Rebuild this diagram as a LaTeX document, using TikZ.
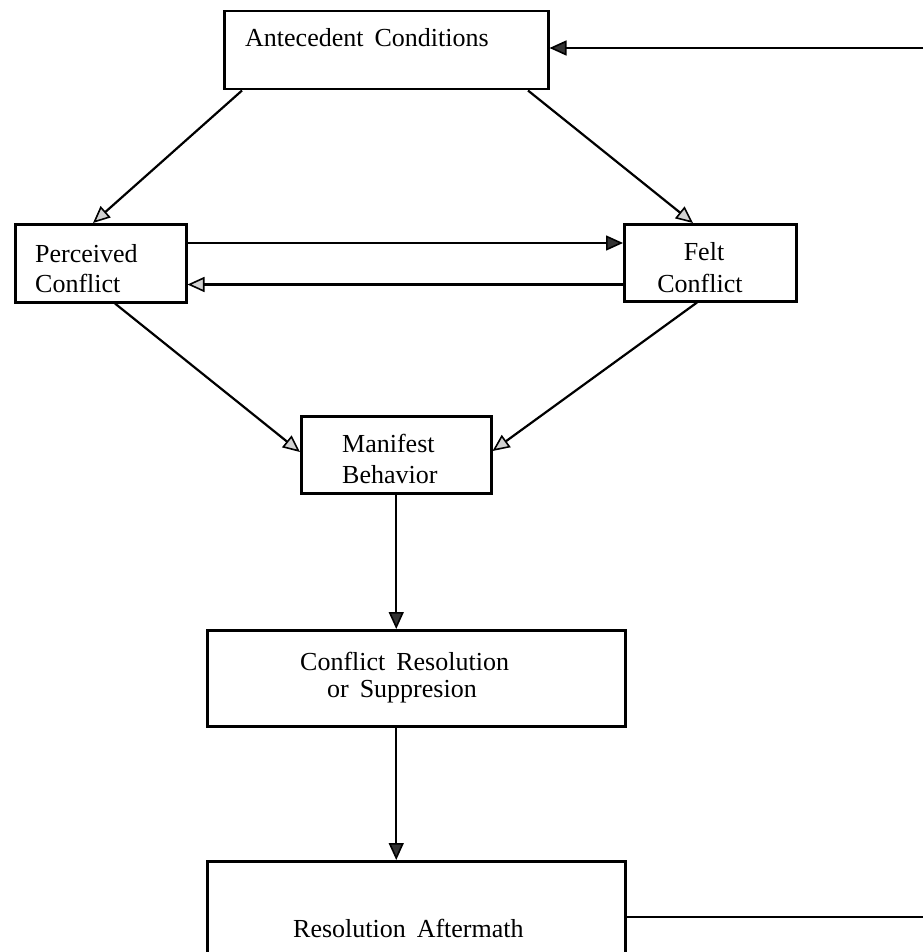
\documentclass[tikz,border=0pt]{standalone}
\usepackage{fontspec}
\setmainfont{Liberation Serif}
\usetikzlibrary{arrows.meta,calc}
\newcommand{\ws}{\hspace{0.42em}}
\begin{document}
\begin{tikzpicture}[x=1pt,y=-1pt,
  box/.style={draw, line width=2.5pt, inner sep=0pt, anchor=north west},
  lbl/.style={font=\fontsize{26}{30}\selectfont, inner sep=0pt, anchor=base west},
  lblc/.style={font=\fontsize{26}{30}\selectfont, inner sep=0pt, anchor=base},
  conn/.style={line width=2.2pt},
  lt/.style={conn, -{Triangle[length=17pt,width=15pt,fill=gray!35,line width=1.6pt]}},
  dk/.style={conn, -{Triangle[length=17pt,width=15pt,fill=black!80,line width=1.6pt]}}]
\useasboundingbox (0,0) rectangle (923,952);
\clip (0,0) rectangle (923,952);
% boxes
\node[box, minimum width=324pt, minimum height=78pt] (ac) at (223,10) {};
\node[box, minimum width=171pt, minimum height=78pt] (pc) at (14,223) {};
\node[box, minimum width=172pt, minimum height=77pt] (fc) at (623,223) {};
\node[box, minimum width=190pt, minimum height=77pt] (mb) at (300,415) {};
\node[box, minimum width=418pt, minimum height=96pt] (cr) at (206,629) {};
\node[box, minimum width=418pt, minimum height=140pt] (ra) at (206,860) {};
% labels
\node[lbl] (acT) at (245,47) {Antecedent\ws Conditions};
\node[lbl] (pcT1) at (35,262) {Perceived};
\node[lbl] (pcT2) at (35,292) {Conflict};
\node[lblc] (fcT1) at (704,260) {Felt};
\node[lblc] (fcT2) at (700,292) {Conflict};
\node[lbl] (mbT1) at (342,452) {Manifest};
\node[lbl] (mbT2) at (342,483) {Behavior};
\node[lbl] (crT1) at (300,670) {Conflict\ws Resolution};
\node[lbl] (crT2) at (327,697) {or\ws Suppresion};
\node[lbl] (raT) at (293,937) {Resolution\ws Aftermath};
% connectors
\draw[lt] ($(ac.south west)+(19,0)$) -- ($(pc.north west)+(79,0)$);
\draw[lt] ($(ac.south west)+(305,0)$) -- ($(fc.north west)+(70,0)$);
\draw[dk] ($(pc.north east)+(0,20)$) -- ($(fc.north west)+(0,20)$);
\draw[lt] ($(fc.south west)+(0,-18)$) -- ($(pc.south east)+(0,-19)$);
\draw[lt] ($(pc.south west)+(101,0)$) -- ($(mb.north west)+(0,37)$);
\draw[lt] ($(fc.south west)+(74,0)$) -- ($(mb.north east)+(0,36)$);
\draw[dk] (mb.south) -- (mb.south |- cr.north);
\draw[dk] (mb.south |- cr.south) -- (mb.south |- ra.north);
\coordinate (rr) at (923,917);
\draw[conn] (ra.east |- rr) -- (rr);
\coordinate (tr) at (923,48);
\draw[dk] (tr) -- (ac.east |- tr);
\end{tikzpicture}
\end{document}
